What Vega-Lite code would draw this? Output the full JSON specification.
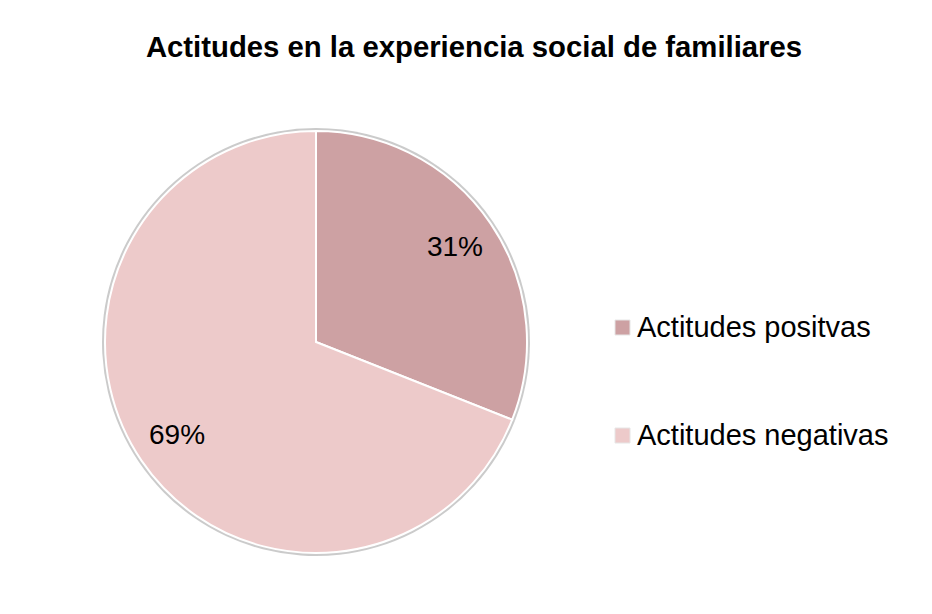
{
  "$schema": "https://vega.github.io/schema/vega-lite/v6.json",
  "width": 422,
  "height": 422,
  "autosize": {"type": "none"},
  "padding": {"left": 105, "top": 131, "right": 405, "bottom": 61},
  "background": "white",
  "config": {"view": {"stroke": null}},
  "title": {
    "text": "Actitudes en la experiencia social de familiares",
    "anchor": "middle",
    "frame": "group",
    "dx": 158,
    "offset": 41,
    "baseline": "alphabetic",
    "fontSize": 29.3,
    "font": "Liberation Sans",
    "fontWeight": "bold",
    "color": "black"
  },
  "data": {
    "values": [
      {"actitud": "Actitudes positvas", "porcentaje": 0.31},
      {"actitud": "Actitudes negativas", "porcentaje": 0.69}
    ]
  },
  "encoding": {
    "theta": {"field": "porcentaje", "type": "quantitative", "stack": true},
    "order": {"field": "porcentaje", "sort": "ascending"}
  },
  "layer": [
    {
      "mark": {"type": "arc", "outerRadius": 214, "opacity": 0.6},
      "encoding": {"color": {"value": "#a8a8a8"}, "detail": {"field": "actitud"}}
    },
    {
      "mark": {"type": "arc", "outerRadius": 211, "stroke": "white", "strokeWidth": 2},
      "encoding": {
        "color": {
          "field": "actitud",
          "type": "nominal",
          "scale": {"domain": ["Actitudes positvas", "Actitudes negativas"], "range": ["#CDA1A3", "#EDCACA"]},
          "legend": {
            "orient": "none",
            "legendX": 503,
            "legendY": 182,
            "title": null,
            "labelFontSize": 29,
            "labelFont": "Liberation Sans",
            "labelColor": "black",
            "labelLimit": 400,
            "symbolType": "square",
            "symbolSize": 225,
            "symbolStrokeColor": "#e6e6e6",
            "symbolStrokeWidth": 1,
            "rowPadding": 78,
            "labelOffset": 0,
            "padding": 0
          }
        }
      }
    },
    {
      "mark": {"type": "text", "radius": 168, "fontSize": 28, "font": "Liberation Sans", "baseline": "middle", "align": "center"},
      "encoding": {
        "text": {"field": "porcentaje", "type": "quantitative", "format": ".0%"},
        "color": {"value": "black"},
        "detail": {"field": "actitud"}
      }
    }
  ]
}
